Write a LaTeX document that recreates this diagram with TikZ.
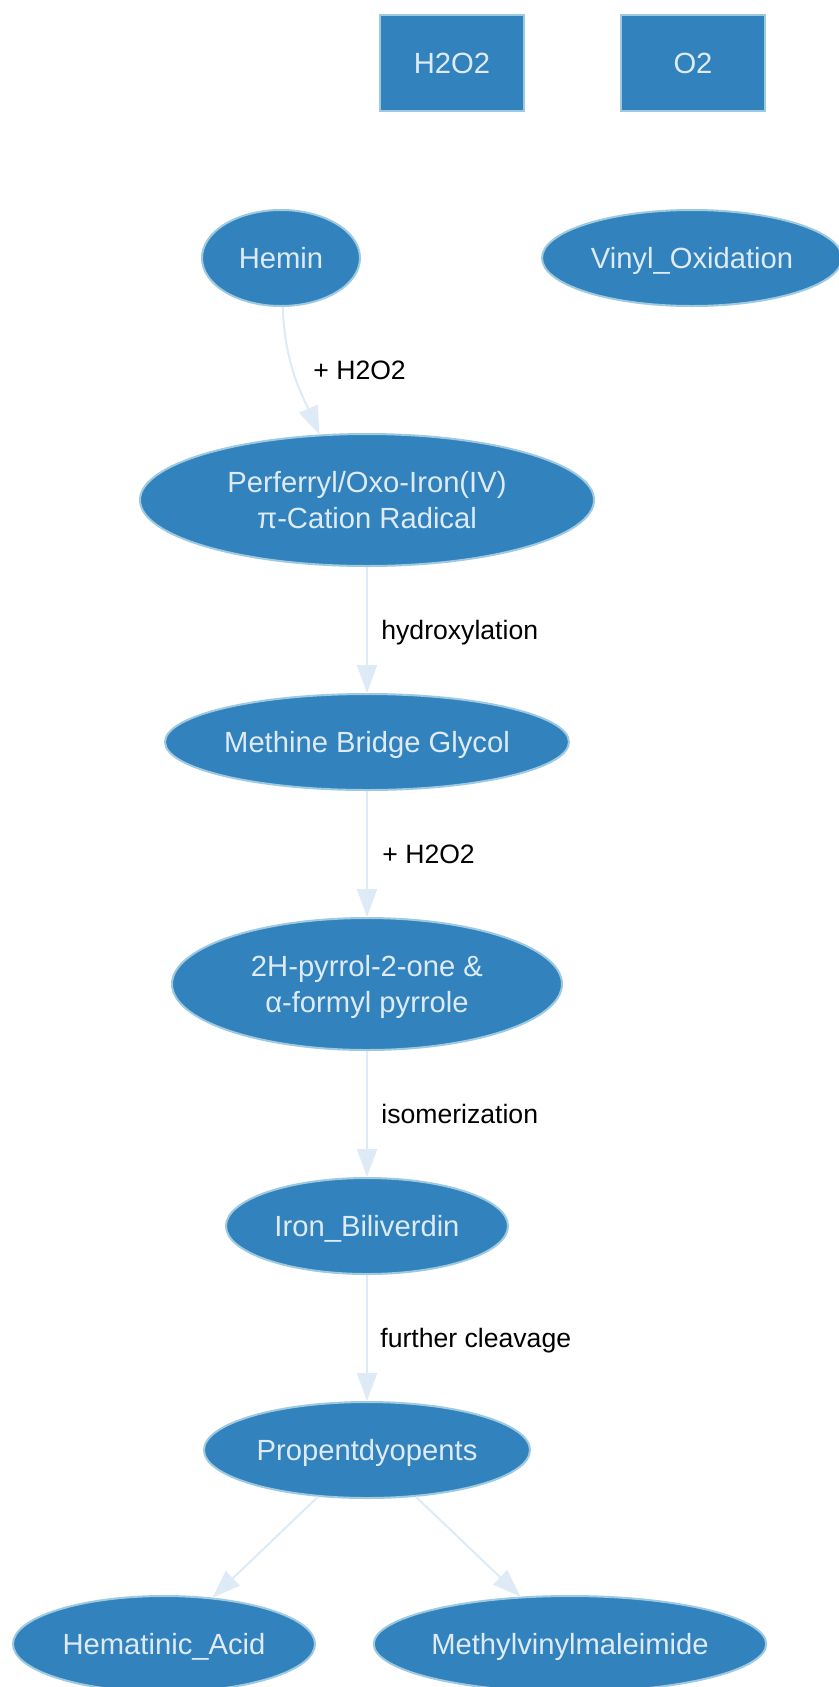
\documentclass[tikz,border=0pt]{standalone}
\usepackage{fontspec}
\setmainfont{Liberation Sans}
\usepackage{tikz}
\usetikzlibrary{shapes.geometric}
\usetikzlibrary{arrows.meta,calc,backgrounds}
\definecolor{nodefill}{HTML}{3182BD}
\definecolor{nodeline}{HTML}{9ECAE1}
\definecolor{nodetext}{HTML}{DEEBF7}
\definecolor{edgecol}{HTML}{DEEBF7}
\tikzstyle{pathway}=[
  x=0.5pt,y=0.5pt,>={Triangle[length=14pt,width=10pt]},font=\fontsize{14.6}{17.8}\selectfont
]
\tikzstyle{species}=[
  draw=nodeline,fill=nodefill,text=nodetext,ellipse,inner sep=0pt,line width=1pt,align=center,
  text depth=0pt
]
\tikzstyle{reagent}=[
  draw=nodeline,fill=nodefill,text=nodetext,rectangle,inner sep=0pt,line width=1pt,
  minimum width=72pt,minimum height=48pt
]
\tikzstyle{reaction}=[
  ->,draw=edgecol,line width=1pt
]
\tikzstyle{steplabel}=[
  anchor=west,inner sep=0pt,text depth=0pt,font=\fontsize{13.3}{16}\selectfont
]

\begin{document}
\begin{tikzpicture}[pathway]
  \useasboundingbox (0,0) rectangle (839,-1687);
  \begin{scope}[on background layer]
    \fill[white] (0,0) rectangle (839,-1687);
  \end{scope}
  % reagents
  \node (h2o2) at (452,-63) [reagent] {H2O2};
  \node (o2) at (693,-63) [reagent] {O2};
  % species
  \node (hemin) at (281,-258) [species,minimum width=79pt,minimum height=48pt] {Hemin};
  \node (vinyl) at (692,-258) [species,minimum width=150pt,minimum height=48pt] {Vinyl\_Oxidation};
  \node (perf) at (367,-500) [species,minimum width=227pt,minimum height=66pt] {Perferryl/Oxo-Iron(IV)\\π-Cation Radical};
  \node (glycol) at (367,-742) [species,minimum width=201pt,minimum height=48pt] {Methine Bridge Glycol};
  \node (pyrrol) at (367,-984) [species,minimum width=195pt,minimum height=66pt] {2H-pyrrol-2-one \&\\α-formyl pyrrole};
  \node (ironbv) at (367,-1226) [species,minimum width=141pt,minimum height=48pt] {Iron\_Biliverdin};
  \node (propent) at (367,-1450) [species,minimum width=163pt,minimum height=48pt] {Propentdyopents};
  \node (hematinic) at (164,-1644) [species,minimum width=151pt,minimum height=48pt] {Hematinic\_Acid};
  \node (mvm) at (570,-1644) [species,minimum width=196pt,minimum height=48pt] {Methylvinylmaleimide};
  % steps
  \draw [reaction] (hemin.-88) .. controls +(2,-60) and +(-15,35) .. (perf.126);
  \draw [reaction] (perf) -- (glycol);
  \draw [reaction] (glycol) -- (pyrrol);
  \draw [reaction] (pyrrol) -- (ironbv);
  \draw [reaction] (ironbv) -- (propent);
  \draw [reaction] (propent) -- (hematinic);
  \draw [reaction] (propent) -- (mvm);
  \node (lab1) at (313,-370) [steplabel] {+ H2O2};
  \node (lab2) at (381,-630) [steplabel] {hydroxylation};
  \node (lab3) at (382,-854) [steplabel] {+ H2O2};
  \node (lab4) at (381,-1114) [steplabel] {isomerization};
  \node (lab5) at (380,-1338) [steplabel] {further cleavage};
\end{tikzpicture}
\end{document}
